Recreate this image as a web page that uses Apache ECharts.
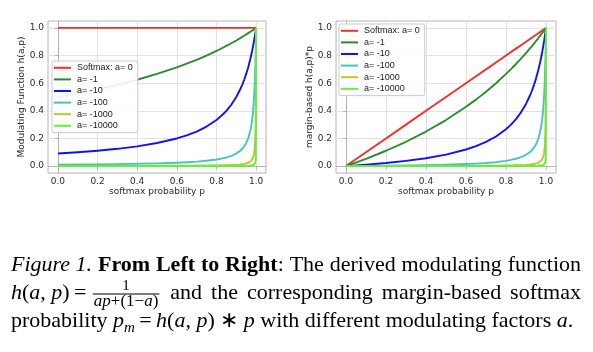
<!DOCTYPE html>
<html>
<head>
<meta charset="utf-8">
<script src="https://cdn.jsdelivr.net/npm/echarts@6/dist/echarts.min.js"></script>
<style>
  html, body { margin: 0; padding: 0; background: #fff; }
  #chart { width: 593px; height: 352px; }
</style>
</head>
<body>
<div id="chart"></div>
<script>
// softmax probability p (sample points)
const probs = [0, 0.1, 0.2, 0.3, 0.4, 0.5, 0.6, 0.65, 0.7, 0.75, 0.8, 0.825, 0.85, 0.875, 0.9, 0.92, 0.93, 0.94, 0.95, 0.96, 0.97, 0.975, 0.98, 0.985, 0.99, 0.993, 0.995, 0.997, 0.998, 0.999, 1]

// left panel: modulating function h(a,p)
const modA0 = [1, 1, 1, 1, 1, 1, 1, 1, 1, 1, 1, 1, 1, 1, 1, 1, 1, 1, 1, 1, 1, 1, 1, 1, 1, 1, 1, 1, 1, 1, 1]
const modA1 = [0.5, 0.526, 0.556, 0.588, 0.625, 0.667, 0.714, 0.741, 0.769, 0.8, 0.833, 0.851, 0.87, 0.889, 0.909, 0.926, 0.935, 0.943, 0.952, 0.962, 0.971, 0.976, 0.98, 0.985, 0.99, 0.993, 0.995, 0.997, 0.998, 0.999, 1]
const modA10 = [0.091, 0.1, 0.111, 0.125, 0.143, 0.167, 0.2, 0.222, 0.25, 0.286, 0.333, 0.364, 0.4, 0.444, 0.5, 0.556, 0.588, 0.625, 0.667, 0.714, 0.769, 0.8, 0.833, 0.87, 0.909, 0.935, 0.952, 0.971, 0.98, 0.99, 1]
const modA100 = [0.0099, 0.011, 0.0123, 0.0141, 0.0164, 0.0196, 0.0244, 0.0278, 0.0323, 0.0385, 0.0476, 0.054, 0.0625, 0.074, 0.0909, 0.111, 0.125, 0.143, 0.167, 0.2, 0.25, 0.286, 0.333, 0.4, 0.5, 0.588, 0.667, 0.769, 0.833, 0.909, 1]
const modA1000 = [0.001, 0.0011, 0.0012, 0.0014, 0.0017, 0.002, 0.0025, 0.0028, 0.0033, 0.004, 0.005, 0.0057, 0.0066, 0.0079, 0.0099, 0.0123, 0.0141, 0.0164, 0.0196, 0.0244, 0.0323, 0.0385, 0.0476, 0.0625, 0.0909, 0.125, 0.167, 0.25, 0.333, 0.5, 1]
const modA10000 = [0.0001, 0.0001, 0.0001, 0.0001, 0.0002, 0.0002, 0.0002, 0.0003, 0.0003, 0.0004, 0.0005, 0.0006, 0.0007, 0.0008, 0.001, 0.0012, 0.0014, 0.0017, 0.002, 0.0025, 0.0033, 0.004, 0.005, 0.0066, 0.0099, 0.0141, 0.0196, 0.0323, 0.0476, 0.0909, 1]

// right panel: margin-based h(a,p)*p
const marA0 = [0, 0.1, 0.2, 0.3, 0.4, 0.5, 0.6, 0.65, 0.7, 0.75, 0.8, 0.825, 0.85, 0.875, 0.9, 0.92, 0.93, 0.94, 0.95, 0.96, 0.97, 0.975, 0.98, 0.985, 0.99, 0.993, 0.995, 0.997, 0.998, 0.999, 1]
const marA1 = [0, 0.053, 0.111, 0.176, 0.25, 0.333, 0.429, 0.481, 0.538, 0.6, 0.667, 0.702, 0.739, 0.778, 0.818, 0.852, 0.869, 0.886, 0.905, 0.923, 0.942, 0.951, 0.961, 0.97, 0.98, 0.986, 0.99, 0.994, 0.996, 0.998, 1]
const marA10 = [0, 0.01, 0.022, 0.038, 0.057, 0.083, 0.12, 0.144, 0.175, 0.214, 0.267, 0.3, 0.34, 0.389, 0.45, 0.511, 0.547, 0.588, 0.633, 0.686, 0.746, 0.78, 0.817, 0.857, 0.9, 0.928, 0.947, 0.968, 0.978, 0.989, 1]
const marA100 = [0, 0.0011, 0.0025, 0.0042, 0.0066, 0.0098, 0.0146, 0.0181, 0.0226, 0.0288, 0.0381, 0.0446, 0.0531, 0.0648, 0.0818, 0.102, 0.116, 0.134, 0.158, 0.192, 0.243, 0.279, 0.327, 0.394, 0.495, 0.584, 0.663, 0.767, 0.832, 0.908, 1]
const marA1000 = [0, 0.0001, 0.0002, 0.0004, 0.0007, 0.001, 0.0015, 0.0018, 0.0023, 0.003, 0.004, 0.0047, 0.0056, 0.0069, 0.0089, 0.0113, 0.0131, 0.0154, 0.0186, 0.0234, 0.0313, 0.0375, 0.0467, 0.0616, 0.09, 0.124, 0.166, 0.249, 0.333, 0.4995, 1]
const marA10000 = [0, 0, 0, 0, 0.0001, 0.0001, 0.0002, 0.0002, 0.0002, 0.0003, 0.0004, 0.0005, 0.0006, 0.0007, 0.0009, 0.0011, 0.0013, 0.0016, 0.0019, 0.0024, 0.0032, 0.0039, 0.0049, 0.0065, 0.0098, 0.014, 0.0195, 0.0322, 0.0475, 0.0908, 1]

const seriesNames = ['Softmax: a= 0', 'a= -1', 'a= -10', 'a= -100', 'a= -1000', 'a= -10000']
const tickValues = [0, 0.2, 0.4, 0.6, 0.8, 1.0]
const xName = 'softmax probability p'
const yNames = ['Modulating Function h(a,p)', 'margin-based h(a,p)*p']

const colors = ['#f22e2a', '#2e8a2e', '#1212f0', '#48c2c2', '#c2c22e', '#62f03c']
const frameColor = '#b4b4b4'
const gridColor = '#e2e2e2'
const labelColor = '#2a2a2a'
const plotFont = 'DejaVu Sans'

const pairs = (xs, ys) => xs.map((x, i) => [x, ys[i]])

const axisCommon = {
  type: 'value',
  min: -0.05,
  max: 1.05,
  nameLocation: 'middle',
  nameTextStyle: { fontSize: 9, color: labelColor, fontFamily: plotFont },
  axisLine: { show: true, lineStyle: { color: frameColor, width: 1 } },
  axisTick: { show: true, length: 3, customValues: tickValues, lineStyle: { color: frameColor } },
  axisLabel: {
    customValues: tickValues,
    formatter: v => v.toFixed(1),
    fontSize: 9,
    color: labelColor,
    fontFamily: plotFont,
    margin: 4
  },
  splitLine: { show: true, lineStyle: { color: gridColor, width: 1 } }
}

const makeX = idx => Object.assign({}, axisCommon, { gridIndex: idx, name: xName, nameGap: 12 })
const makeY = (idx, name) => Object.assign({}, axisCommon, { gridIndex: idx, name: name, nameGap: 14 })

const makeLegend = (left, top) => ({
  left: left,
  top: top,
  orient: 'vertical',
  data: seriesNames,
  icon: 'rect',
  itemWidth: 17,
  itemHeight: 2,
  itemGap: 0,
  padding: [1, 5, 1, 2],
  selectedMode: false,
  backgroundColor: 'rgba(255,255,255,0.9)',
  borderColor: '#cccccc',
  borderWidth: 1,
  borderRadius: 2,
  textStyle: { fontSize: 9, color: '#222', fontFamily: 'Liberation Sans', lineHeight: 11.6, padding: [0, 0, 0, 1] }
})

const modSets = [modA0, modA1, modA10, modA100, modA1000, modA10000]
const marSets = [marA0, marA1, marA10, marA100, marA1000, marA10000]

const series = []
;[modSets, marSets].forEach((sets, g) => {
  sets.forEach((vals, i) => {
    series.push({
      name: seriesNames[i],
      type: 'line',
      xAxisIndex: g,
      yAxisIndex: g,
      data: pairs(probs, vals),
      showSymbol: false,
      symbol: 'none',
      lineStyle: { width: 1.9, color: colors[i], join: 'round' },
      itemStyle: { color: colors[i] }
    })
  })
})

// ---- caption, laid out with measured text widths ----
const measureCtx = document.createElement('canvas').getContext('2d')
const serif = '"Liberation Serif"'
const fontOf = (size, style) => (style || '') + ' ' + size + 'px ' + serif
const widthOf = (str, font) => { measureCtx.font = font; return measureCtx.measureText(str).width }

const FS = 22
const SUB = 15
const FRAC = 17
const caption = []

function textEl(str, x, baseline, font, size, align) {
  return {
    type: 'text',
    x: x,
    y: baseline - 0.3375 * size,
    silent: true,
    style: { text: str, font: font, fill: '#000', align: align || 'left', verticalAlign: 'middle' }
  }
}

// frags: {t, style, size, dy, stretch} or {frac}
function layoutLine(frags, x0, baseline, target) {
  const pieces = []
  frags.forEach(f => {
    if (f.frac) { pieces.push({ frac: f.frac, w: f.frac.w }); return }
    const size = f.size || FS
    const font = fontOf(size, f.style)
    const parts = f.stretch ? f.t.split(/( )/).filter(s => s.length) : [f.t]
    parts.forEach(s => {
      pieces.push({ t: s, font, size, dy: f.dy || 0, w: widthOf(s, font), gap: f.stretch && s === ' ' })
    })
  })
  const natural = pieces.reduce((s, p) => s + p.w, 0)
  const gaps = pieces.filter(p => p.gap).length
  const extra = target && gaps ? (target - x0 - natural) / gaps : 0
  let x = x0
  pieces.forEach(p => {
    if (p.frac) {
      p.frac.draw(x, baseline)
      x += p.w
    } else if (p.gap) {
      x += p.w + extra
    } else {
      caption.push(textEl(p.t, x, baseline + p.dy, p.font, p.size))
      x += p.w
    }
  })
}

// fraction 1 / (ap+(1-a))
const denom = [
  { t: 'ap', style: 'italic' }, { t: '+(1\u2212', style: '' }, { t: 'a', style: 'italic' }, { t: ')', style: '' }
]
const denomW = denom.reduce((s, d) => s + widthOf(d.t, fontOf(FRAC, d.style)), 0)
const fraction = {
  w: denomW + 6,
  draw(x, baseline) {
    const barY = baseline - 7
    const left = x + 2
    caption.push({
      type: 'line',
      silent: true,
      shape: { x1: left, y1: barY, x2: left + denomW + 2, y2: barY },
      style: { stroke: '#000', lineWidth: 1 }
    })
    caption.push(textEl('1', left + denomW / 2 + 1, barY - 3, fontOf(SUB, ''), SUB, 'center'))
    let dx = left + 1
    denom.forEach(d => {
      const f = fontOf(FRAC, d.style)
      caption.push(textEl(d.t, dx, barY + 13, f, FRAC))
      dx += widthOf(d.t, f)
    })
  }
}

layoutLine([
  { t: 'Figure 1.', style: 'italic' },
  { t: ' ', stretch: true },
  { t: 'From Left to Right', style: 'bold', stretch: true },
  { t: ': The derived modulating function', stretch: true }
], 11, 273, 581)

layoutLine([
  { t: 'h', style: 'italic' }, { t: '(' }, { t: 'a', style: 'italic' }, { t: ', ' },
  { t: 'p', style: 'italic' }, { t: ')' },
  { t: '\u2009=\u2009' },
  { frac: fraction },
  { t: ' and the corresponding margin-based softmax', stretch: true }
], 11, 301, 581)

layoutLine([
  { t: 'probability ' }, { t: 'p', style: 'italic' }, { t: 'm', style: 'italic', size: SUB, dy: 4 },
  { t: '\u2009=\u2009' }, { t: 'h', style: 'italic' }, { t: '(' }, { t: 'a', style: 'italic' }, { t: ', ' },
  { t: 'p', style: 'italic' }, { t: ')' }, { t: ' \u2217 ' }, { t: 'p', style: 'italic' },
  { t: ' with different modulating factors ' }, { t: 'a', style: 'italic' }, { t: '.' }
], 11, 329, 0)

const chart = echarts.init(document.getElementById('chart'), null, { renderer: 'canvas' })
const option = {
  animation: false,
  backgroundColor: '#fff',
  grid: [
    { left: 48, top: 21, width: 218, height: 152, show: true, borderColor: frameColor, borderWidth: 1, backgroundColor: 'transparent' },
    { left: 336, top: 21, width: 220, height: 152, show: true, borderColor: frameColor, borderWidth: 1, backgroundColor: 'transparent' }
  ],
  xAxis: [makeX(0), makeX(1)],
  yAxis: [makeY(0, yNames[0]), makeY(1, yNames[1])],
  legend: [makeLegend(52, 61), makeLegend(339, 24)],
  series: series,
  graphic: caption
}
chart.setOption(option)
</script>
</body>
</html>
